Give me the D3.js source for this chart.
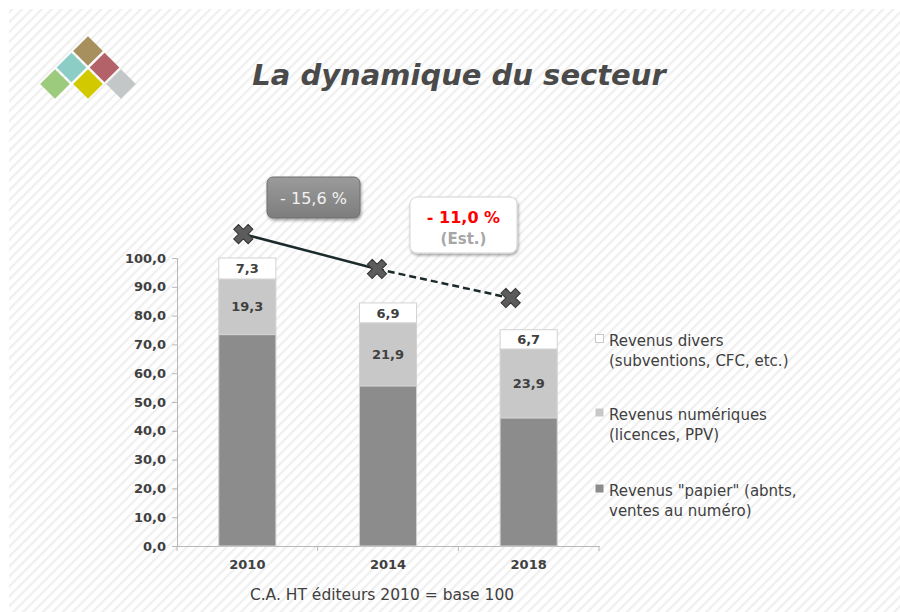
<!DOCTYPE html>
<html><head><meta charset="utf-8">
<script src="https://cdn.jsdelivr.net/npm/d3@7"></script>
<style>html,body{margin:0;padding:0;background:#fff;}svg{display:block;}</style>
</head><body>
<script>
// ---- data ----
const years = ["2010", "2014", "2018"];
const papier = [73.4, 55.6, 44.5];
const numeriques = [19.3, 21.9, 23.9];
const divers = [7.3, 6.9, 6.7];
const trendValues = [108.3, 96.2, 86.1];
const yTicks = [0, 10, 20, 30, 40, 50, 60, 70, 80, 90, 100];
const legendLines = [
  ["Revenus divers", "(subventions, CFC, etc.)"],
  ["Revenus numériques", "(licences, PPV)"],
  ["Revenus \"papier\" (abnts,", "ventes au numéro)"]
];
const annotation1 = "- 15,6 %";
const annotation2 = ["- 11,0 %", "(Est.)"];
const titleText = "La dynamique du secteur";
const captionText = "C.A. HT éditeurs 2010 = base 100";
const logoColors = ["#a88f5e", "#8ccdc6", "#b4626a", "#9dcb7e", "#d3c900", "#c3c7c7"];
const logoCells = [[0,0],[1,-1],[1,1],[2,-2],[2,0],[2,2]];

const W = 900, H = 612;
const FONT = "'DejaVu Sans', Verdana, sans-serif";
const svg = d3.select("body").append("svg").attr("width", W).attr("height", H);
const defs = svg.append("defs");

// background stripes
const pat = defs.append("pattern").attr("id","stripes").attr("patternUnits","userSpaceOnUse")
  .attr("width",7).attr("height",7).attr("patternTransform","rotate(45)");
pat.append("rect").attr("width",7).attr("height",7).attr("fill","#ffffff");
pat.append("rect").attr("width",2.2).attr("height",7).attr("fill","#efefef");
svg.append("rect").attr("width",W).attr("height",H).attr("fill","#fff");
svg.append("rect").attr("x",9).attr("y",9).attr("width",W-9).attr("height",H-9).attr("fill","url(#stripes)");

const shadow = defs.append("filter").attr("id","shadow").attr("x","-20%").attr("y","-20%").attr("width","150%").attr("height","160%");
shadow.append("feDropShadow").attr("dx",1).attr("dy",2).attr("stdDeviation",1.6).attr("flood-color","#000").attr("flood-opacity",0.35);
const grad = defs.append("linearGradient").attr("id","gbox").attr("x1",0).attr("y1",0).attr("x2",0).attr("y2",1);
grad.append("stop").attr("offset","0%").attr("stop-color","#9b9b9b");
grad.append("stop").attr("offset","100%").attr("stop-color","#7d7d7d");

// logo
const logo = svg.append("g").attr("transform","translate(88,51)");
const half = 16.5;
logo.selectAll("rect").data(logoCells).join("rect")
  .attr("x",-10.5).attr("y",-10.5).attr("width",21).attr("height",21)
  .attr("fill",(d,i)=>logoColors[i])
  .attr("transform",d=>`translate(${d[1]*half},${d[0]*half}) rotate(45)`);

// title
svg.append("text").attr("x",459).attr("y",85).attr("text-anchor","middle")
  .attr("font-family",FONT).attr("font-size",29).attr("font-weight","bold").attr("font-style","italic")
  .attr("fill","#4a4a4a").text(titleText);

// scales
const x = d3.scaleBand().domain(years).range([177, 599]).paddingInner(0.594).paddingOuter(0.297);
const y = d3.scaleLinear().domain([0, 100]).range([546, 258]);

// y axis
const yAxis = svg.append("g").attr("transform","translate(177,0)")
  .call(d3.axisLeft(y).tickValues(yTicks).tickSize(5).tickPadding(6)
    .tickFormat(d => d3.format(".1f")(d).replace(".", ",")));
yAxis.select(".domain").attr("stroke","#b8b8b8");
yAxis.selectAll(".tick line").attr("stroke","#b8b8b8");
yAxis.selectAll("text").attr("font-family",FONT).attr("font-size",13).attr("font-weight","bold").attr("fill","#404040");

// x axis
const xAxis = svg.append("g").attr("transform","translate(0,546)")
  .call(d3.axisBottom(x).tickSize(0).tickPadding(14));
xAxis.select(".domain").attr("stroke","#b8b8b8");
xAxis.selectAll("text").attr("font-family",FONT).attr("font-size",13).attr("font-weight","bold").attr("fill","#404040");
const bounds = years.map(d => x(d) - x.step()*x.paddingInner()/2).concat([x.range()[1]]);
xAxis.selectAll(".bound").data(bounds).join("line").attr("class","bound")
  .attr("x1",d=>d).attr("x2",d=>d).attr("y1",0).attr("y2",5).attr("stroke","#b8b8b8");

// stacked bars
const rows = years.map((yr,i)=>({year:yr, papier:papier[i], numeriques:numeriques[i], divers:divers[i]}));
const keys = ["papier","numeriques","divers"];
const fills = {papier:"#8c8c8c", numeriques:"#c8c8c8", divers:"#ffffff"};
const stack = d3.stack().keys(keys)(rows);
const gBars = svg.append("g");
stack.forEach(layer => {
  gBars.selectAll(null).data(layer).join("rect")
    .attr("x", d=>x(d.data.year)).attr("width", x.bandwidth())
    .attr("y", d=>y(d[1])).attr("height", d=>y(d[0])-y(d[1]))
    .attr("fill", fills[layer.key]).attr("stroke","#d2d2d2").attr("stroke-width",1);
});
stack.filter(l=>l.key!=="papier").forEach(layer => {
  gBars.selectAll(null).data(layer).join("text")
    .attr("x", d=>x(d.data.year)+x.bandwidth()/2).attr("y", d=>(y(d[0])+y(d[1]))/2)
    .attr("dy","0.36em").attr("text-anchor","middle")
    .attr("font-family",FONT).attr("font-size",13).attr("font-weight","bold").attr("fill","#404040")
    .text(d=>d3.format(".1f")(d[1]-d[0]).replace(".", ","));
});

// trend line
const xl = d3.scalePoint().domain(years)
  .range([x("2010")+x.bandwidth()/2-4, x("2018")+x.bandwidth()/2-18]);
const pts = years.map((yr,i)=>[xl(yr), y(trendValues[i])]);
const line = d3.line();
svg.append("path").attr("d", line(pts.slice(0,2))).attr("fill","none").attr("stroke","#1b2b2b").attr("stroke-width",2.5);
svg.append("path").attr("d", line(pts.slice(1,3))).attr("fill","none").attr("stroke","#1b2b2b").attr("stroke-width",2.5).attr("stroke-dasharray","7,4");
svg.selectAll(".mk").data(pts).join("path").attr("class","mk")
  .attr("d", d3.symbol(d3.symbolCross, 230)())
  .attr("transform", d=>`translate(${d[0]},${d[1]}) rotate(45)`)
  .attr("fill","#5c5c5c").attr("stroke","#333").attr("stroke-width",1);

// annotation boxes
const b1 = svg.append("g");
b1.append("rect").attr("x",267).attr("y",177).attr("width",93).attr("height",41).attr("rx",6)
  .attr("fill","url(#gbox)").attr("stroke","#6e6e6e").attr("filter","url(#shadow)");
b1.append("text").attr("x",313.5).attr("y",204).attr("text-anchor","middle")
  .attr("font-family",FONT).attr("font-size",16).attr("fill","#f2f2f2").text(annotation1);

const b2 = svg.append("g");
b2.append("rect").attr("x",410).attr("y",197).attr("width",107).attr("height",56).attr("rx",7)
  .attr("fill","#ffffff").attr("stroke","#d4d4d4").attr("filter","url(#shadow)");
b2.append("text").attr("x",463.5).attr("y",223).attr("text-anchor","middle")
  .attr("font-family",FONT).attr("font-size",16).attr("font-weight","bold").attr("fill","#ff0000").text(annotation2[0]);
b2.append("text").attr("x",463.5).attr("y",244).attr("text-anchor","middle")
  .attr("font-family",FONT).attr("font-size",15).attr("font-weight","bold").attr("fill","#a6a6a6").text(annotation2[1]);

// legend
const legendFills = ["#ffffff","#c8c8c8","#8c8c8c"];
const legendY = [346, 420, 496];
const lg = svg.append("g");
legendLines.forEach((lines,i)=>{
  lg.append("rect").attr("x",595.5).attr("y",legendY[i]-11.5).attr("width",8).attr("height",8)
    .attr("fill",legendFills[i]).attr("stroke", i===0 ? "#c8c8c8" : "none");
  lines.forEach((t,j)=>{
    lg.append("text").attr("x",609).attr("y",legendY[i]+j*20)
      .attr("font-family",FONT).attr("font-size",15).attr("fill","#404040").text(t);
  });
});

// caption
svg.append("text").attr("x",382).attr("y",600).attr("text-anchor","middle")
  .attr("font-family",FONT).attr("font-size",15.5).attr("fill","#404040").text(captionText);
</script>
</body></html>
